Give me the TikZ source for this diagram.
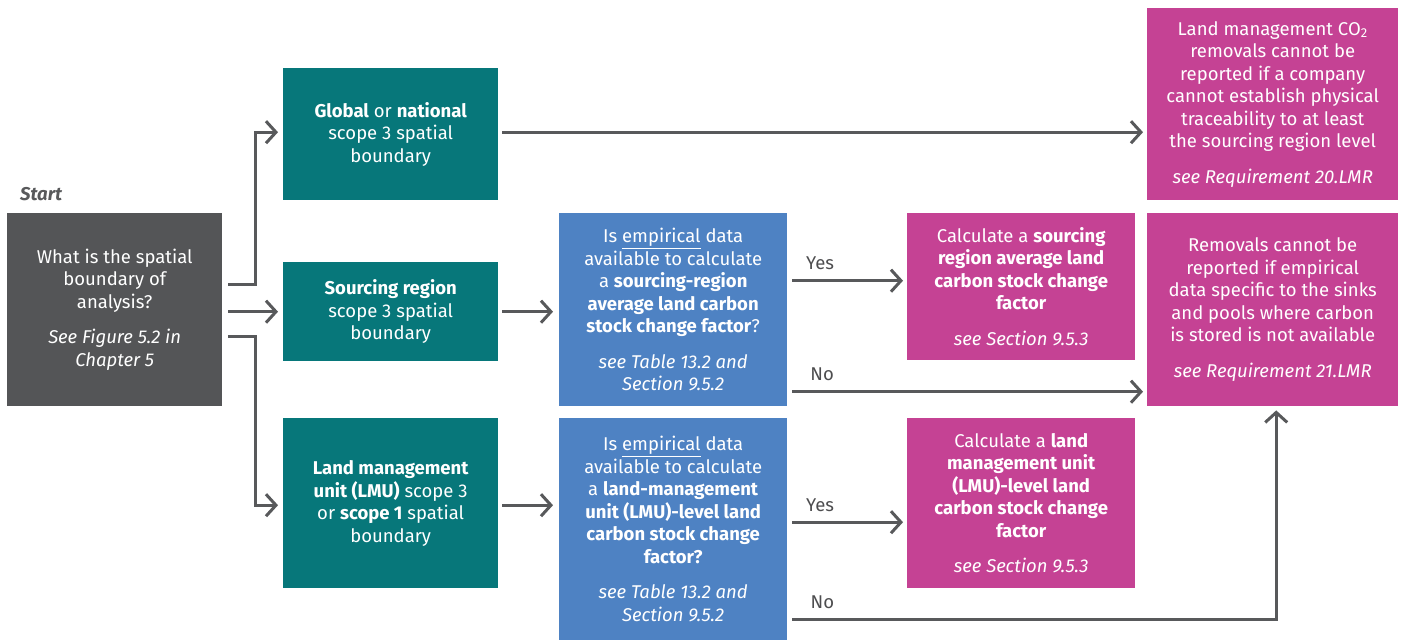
\documentclass[tikz,border=0pt]{standalone}
\usepackage{fontspec}
\setmainfont{Fira Sans}
\usetikzlibrary{arrows.meta,calc}
\definecolor{tealbox}{HTML}{07777A}
\definecolor{startgray}{HTML}{545557}
\definecolor{bluebox}{HTML}{4E82C3}
\definecolor{pinkbox}{HTML}{C54294}
\definecolor{arrgray}{HTML}{58595B}
\definecolor{labgray}{HTML}{4D4D4F}
\begin{document}
\begin{tikzpicture}[x=1pt,y=-1pt,
  box/.style={rectangle, inner sep=0pt, anchor=north west, text=white, align=center,
    font=\fontsize{18.5}{22.5}\selectfont},
  arr/.style={line width=3pt, draw=arrgray, -{Straight Barb[length=10pt,width=22pt]}},
  lab/.style={text=labgray, font=\fontsize{18.5}{20}\selectfont, inner sep=0pt},
]
\useasboundingbox (0,0) rectangle (1403,640);

\node[lab, text=arrgray, anchor=west, font=\fontsize{18.5}{20}\selectfont\bfseries\itshape] (startlab) at (20,194) {Start};

\node[box, fill=startgray, minimum width=215pt, minimum height=193pt] (start) at (7,213)
  {What is the spatial\\boundary of\\analysis?\\[13pt]\itshape See Figure 5.2 in\\\itshape Chapter 5};

\node[box, fill=tealbox, minimum width=215pt, minimum height=132pt] (global) at (283,68)
  {\textbf{Global} or \textbf{national}\\scope 3 spatial\\boundary};
\node[box, fill=tealbox, minimum width=215pt, minimum height=99pt] (sourcing) at (283,262)
  {\textbf{Sourcing region}\\scope 3 spatial\\boundary};
\node[box, fill=tealbox, minimum width=215pt, minimum height=170pt] (lmu) at (283,418)
  {\textbf{Land management}\\\textbf{unit (LMU)} scope 3\\or \textbf{scope 1} spatial\\boundary};

\node[box, fill=bluebox, minimum width=228pt, minimum height=193pt] (blue1) at (559,213)
  {Is \underline{empirical} data\\available to calculate\\a \textbf{sourcing-region}\\\textbf{average land carbon}\\\textbf{stock change factor}?\\[13pt]\itshape see Table 13.2 and\\\itshape Section 9.5.2};
\node[box, fill=bluebox, minimum width=228pt, minimum height=222pt] (blue2) at (559,418)
  {Is \underline{empirical} data\\available to calculate\\a \textbf{land-management}\\\textbf{unit (LMU)-level land}\\\textbf{carbon stock change}\\\textbf{factor?}\\[13pt]\itshape see Table 13.2 and\\\itshape Section 9.5.2};

\node[box, fill=pinkbox, minimum width=228pt, minimum height=147pt] (calcS) at (907,213)
  {Calculate a \textbf{sourcing}\\\textbf{region average land}\\\textbf{carbon stock change}\\\textbf{factor}\\[13pt]\itshape see Section 9.5.3};
\node[box, fill=pinkbox, minimum width=228pt, minimum height=170pt] (calcL) at (907,418)
  {Calculate a \textbf{land}\\\textbf{management unit}\\\textbf{(LMU)-level land}\\\textbf{carbon stock change}\\\textbf{factor}\\[13pt]\itshape see Section 9.5.3};

\node[box, fill=pinkbox, minimum width=251pt, minimum height=192pt] (toprem) at (1147,8)
  {Land management CO\textsubscript{2}\\removals cannot be\\reported if a company\\cannot establish physical\\traceability to at least\\the sourcing region level\\[13pt]\itshape see Requirement 20.LMR};
\node[box, fill=pinkbox, minimum width=251pt, minimum height=193pt] (removals) at (1147,213)
  {Removals cannot be\\reported if empirical\\data specific to the sinks\\and pools where carbon\\is stored is not available\\[13pt]\itshape see Requirement 21.LMR};

% connectors
\draw[arr] ($(start.east)+(6,-25)$) -- ++(27,0) |- ($(global.west)+(-5,-2)$);
\draw[arr] ($(start.east |- sourcing.west)+(6,0)$) -- ($(sourcing.west)+(-5,0)$);
\draw[arr] ($(start.east)+(6,27)$) -- ++(27,0) |- ($(lmu.west)+(-5,2)$);

\draw[arr] ($(global.east)+(4,-2)$) -- ($(global.east -| toprem.west)+(-4,-2)$);
\draw[arr] ($(sourcing.east)+(4,0)$) -- ($(sourcing.east -| blue1.west)+(-6,0)$);
\draw[arr] ($(lmu.east)+(4,2)$) -- ($(lmu.east -| blue2.west)+(-6,2)$);

\draw[arr] ($(blue1.east |- calcS.west)+(5,-6)$) -- ($(calcS.west)+(-4,-6)$)
  node[lab, pos=0.25, above=9pt] (yes1) {Yes};
\draw[arr] ($(blue1.east)+(5,82)$) -- ($(removals.west)+(-4,82)$)
  node[lab, pos=0.085, above=9pt] (no1) {No};
\draw[arr] ($(blue2.east |- calcL.west)+(5,19)$) -- ($(calcL.west)+(-4,19)$)
  node[lab, pos=0.25, above=9pt] (yes2) {Yes};
\draw[arr] ($(blue2.east)+(5,90)$) -| ($(removals.south)+(3.5,4)$)
  node[lab, pos=0.031, above=9pt] (no2) {No};
\end{tikzpicture}
\end{document}
